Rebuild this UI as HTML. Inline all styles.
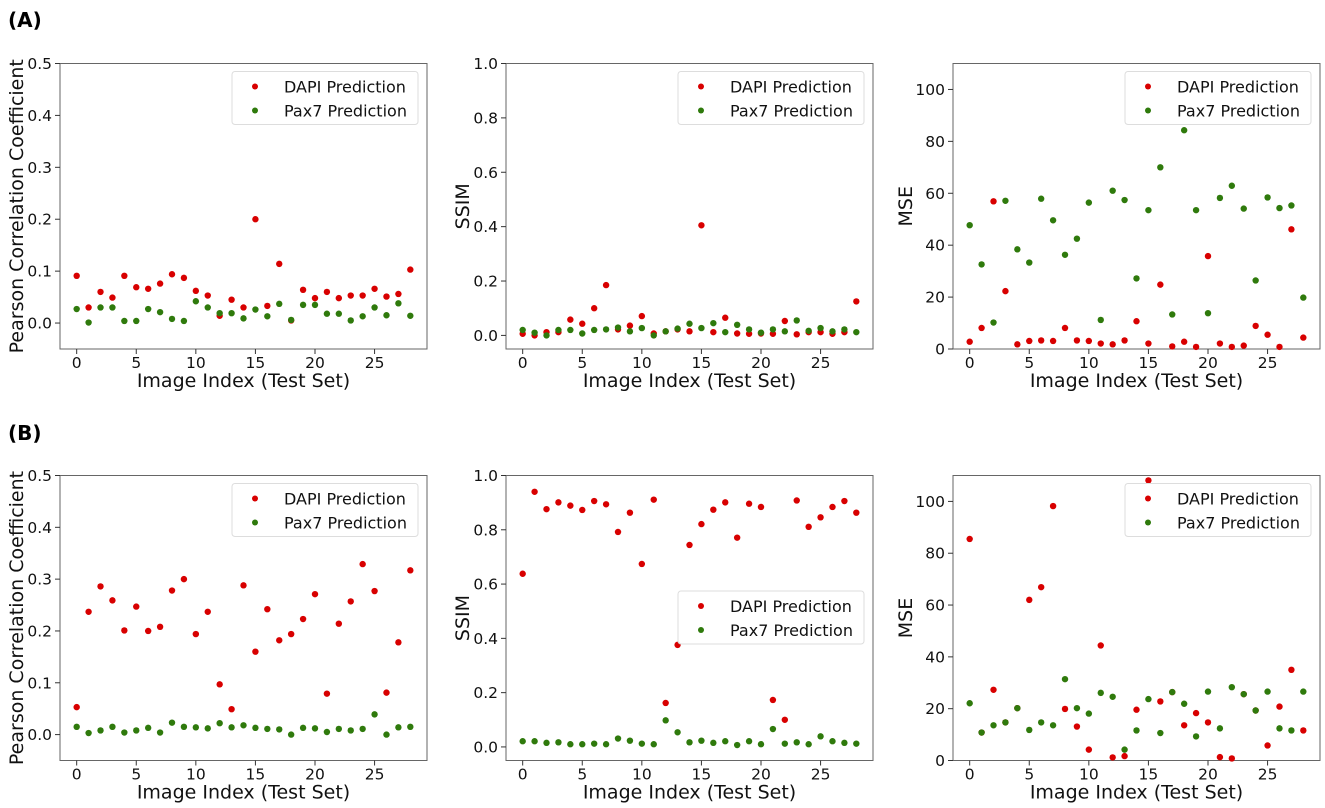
<!DOCTYPE html>
<html><head><meta charset="utf-8"><style>
html,body{margin:0;padding:0;background:#fff;}
svg{display:block;font-family:"DejaVu Sans","Liberation Sans",sans-serif;}
</style></head><body>
<svg id="fig" width="1325" height="808" viewBox="0 0 1325 808" xmlns="http://www.w3.org/2000/svg">
<text x="8" y="27" font-size="20" font-weight="bold">(A)</text>
<text x="8" y="440" font-size="20" font-weight="bold">(B)</text>
</svg>
<script>
const idx = Array.from({length:29},(_,i)=>i);
const xTicks = [0,5,10,15,20,25];
const pearsonTicks = [0.0,0.1,0.2,0.3,0.4,0.5];
const ssimTicks = [0.0,0.2,0.4,0.6,0.8,1.0];
const mseTicks = [0,20,40,60,80,100];
const seriesNames = ["DAPI Prediction","Pax7 Prediction"];

const aPearsonDapi = [0.091,0.030,0.060,0.049,0.091,0.069,0.066,0.076,0.094,0.087,0.062,0.053,0.014,0.045,0.030,0.200,0.033,0.114,0.005,0.064,0.048,0.060,0.048,0.053,0.053,0.066,0.051,0.056,0.103];
const aPearsonPax7 = [0.027,0.001,0.030,0.030,0.004,0.004,0.027,0.021,0.008,0.004,0.042,0.030,0.019,0.019,0.009,0.026,0.013,0.037,0.006,0.035,0.035,0.018,0.018,0.005,0.013,0.030,0.015,0.038,0.014];
const aSsimDapi = [0.006,0.0,0.012,0.012,0.058,0.043,0.10,0.185,0.022,0.036,0.071,0.007,0.015,0.022,0.015,0.405,0.012,0.065,0.007,0.006,0.007,0.006,0.053,0.004,0.012,0.012,0.006,0.012,0.125];
const aSsimPax7 = [0.02,0.01,0.0,0.02,0.02,0.007,0.02,0.022,0.029,0.015,0.027,0.0,0.015,0.025,0.043,0.027,0.045,0.012,0.039,0.022,0.01,0.022,0.015,0.055,0.017,0.027,0.015,0.022,0.012];
const aMseDapi = [2.8,8.1,56.9,22.3,1.8,3.1,3.3,3.1,8.1,3.3,3.1,2.1,1.8,3.3,10.7,2.1,24.8,1.0,2.8,0.8,35.8,2.1,0.8,1.3,8.9,5.5,0.8,46.1,4.4];
const aMsePax7 = [47.7,32.6,10.2,57.1,38.4,33.3,57.9,49.6,36.3,42.5,56.4,11.2,61.0,57.4,27.2,53.5,70.0,13.3,84.3,53.5,13.8,58.2,62.9,54.1,26.4,58.4,54.3,55.3,19.8];

const bPearsonDapi = [0.053,0.237,0.286,0.259,0.201,0.247,0.200,0.208,0.278,0.300,0.194,0.237,0.097,0.049,0.288,0.160,0.242,0.182,0.194,0.223,0.271,0.079,0.214,0.257,0.329,0.277,0.081,0.178,0.317];
const bPearsonPax7 = [0.015,0.003,0.008,0.015,0.004,0.008,0.013,0.004,0.023,0.015,0.014,0.012,0.022,0.014,0.018,0.013,0.011,0.010,0.0,0.013,0.012,0.005,0.011,0.008,0.011,0.039,0.0,0.014,0.015];
const bSsimDapi = [0.638,0.940,0.876,0.901,0.889,0.873,0.906,0.894,0.792,0.863,0.674,0.911,0.162,0.376,0.744,0.821,0.874,0.901,0.771,0.896,0.884,0.173,0.100,0.908,0.811,0.846,0.884,0.906,0.863];
const bSsimPax7 = [0.021,0.021,0.015,0.017,0.010,0.010,0.012,0.010,0.031,0.023,0.012,0.010,0.098,0.054,0.017,0.023,0.015,0.021,0.007,0.021,0.010,0.066,0.012,0.017,0.010,0.039,0.021,0.015,0.012];
const bMseDapi = [85.5,10.8,27.3,14.7,20.2,62.0,66.9,98.2,19.9,13.1,4.2,44.4,1.2,1.7,19.6,108.1,22.8,26.4,13.6,18.3,14.7,1.3,0.8,25.6,19.3,5.8,20.8,35.0,11.6];
const bMsePax7 = [22.1,10.8,13.6,14.7,20.2,11.8,14.7,13.6,31.4,20.2,18.1,26.1,24.6,4.2,11.6,23.7,10.6,26.4,21.9,9.3,26.6,12.4,28.3,25.6,19.3,26.6,12.4,11.6,26.6];

const NS="http://www.w3.org/2000/svg";
const svg=document.getElementById('fig');
const RED="#d80000", GREEN="#2f7a0c";
function mk(tag,attrs,parent){const e=document.createElementNS(NS,tag);for(const k in attrs)e.setAttribute(k,attrs[k]);(parent||svg).appendChild(e);return e;}

const cols=[[60,427],[506,873],[953,1320]];
const rows=[[63.5,349],[475.5,760.5]];
const ylabX=[17,463,906];

function panel(name,col,row,ymin,ymax,yticks,ylabel,dapi,pax,fmt,legend){
  const [L,R]=cols[col],[T,B]=rows[row];
  const g=mk('g',{});
  
  
  const xs=v=>L+(v-(-1.4))/(30.8)*(R-L);
  const ys=v=>B-(v-ymin)/(ymax-ymin)*(B-T);
  const frame=mk('rect',{x:L,y:T,width:R-L,height:B-T,fill:'none',stroke:'#666','stroke-width':1},g);
  
  
  xTicks.forEach(t=>{
    mk('line',{x1:xs(t),x2:xs(t),y1:B,y2:B+5,stroke:'#333'},g);
    const tx=mk('text',{x:xs(t),y:B+19,'font-size':15.5,'text-anchor':'middle',fill:'#111'},g);
    tx.textContent=t;
    
    
  });
  yticks.forEach(t=>{
    mk('line',{x1:L-5,x2:L,y1:ys(t),y2:ys(t),stroke:'#333'},g);
    const tx=mk('text',{x:L-8,y:ys(t)+5.5,'font-size':15.5,'text-anchor':'end',fill:'#111'},g);
    tx.textContent=fmt(t);
    
    
  });
  const xl=mk('text',{x:(L+R)/2,y:B+38,'font-size':19,'text-anchor':'middle',fill:'#111'},g);
  xl.textContent='Image Index (Test Set)';
  
  
  const yc=(T+B)/2,yx=ylabX[col];
  const yl=mk('text',{x:yx,y:yc,'font-size':19,'text-anchor':'middle','dominant-baseline':'central',fill:'#111',transform:`rotate(-90 ${yx} ${yc})`},g);
  yl.textContent=ylabel;
  
  
  idx.forEach(i=>{
    const c=mk('circle',{cx:xs(i),cy:ys(dapi[i]),r:3.2,fill:RED},g);
    
    
  });
  idx.forEach(i=>{
    const c=mk('circle',{cx:xs(i),cy:ys(pax[i]),r:3.2,fill:GREEN},g);
    
    
  });
  const lw=186,lh=53;
  const lr=legend?legend[0]:R-9, lt=legend?legend[1]:T+8;
  const lg=mk('g',{},g);
  
  
  mk('rect',{x:lr-lw,y:lt,width:lw,height:lh,rx:3,fill:'#fff','fill-opacity':0.85,stroke:'#ddd'},lg);
  [RED,GREEN].forEach((c,k)=>{
    const yy=lt+15+k*24;
    mk('circle',{cx:lr-lw+23,cy:yy,r:3,fill:c},lg);
    const t=mk('text',{x:lr-lw+52,y:yy+6,'font-size':16,fill:'#111'},lg);
    t.textContent=seriesNames[k];
    
    
  });
}
const f1=t=>t.toFixed(1), f0=t=>String(t);
panel('pearson-chart-a',0,0,-0.05,0.5,pearsonTicks,'Pearson Correlation Coefficient',aPearsonDapi,aPearsonPax7,f1);
panel('ssim-chart-a',1,0,-0.05,1.0,ssimTicks,'SSIM',aSsimDapi,aSsimPax7,f1);
panel('mse-chart-a',2,0,0,110,mseTicks,'MSE',aMseDapi,aMsePax7,f0);
panel('pearson-chart-b',0,1,-0.05,0.5,pearsonTicks,'Pearson Correlation Coefficient',bPearsonDapi,bPearsonPax7,f1);
panel('ssim-chart-b',1,1,-0.05,1.0,ssimTicks,'SSIM',bSsimDapi,bSsimPax7,f1,[864,591]);
panel('mse-chart-b',2,1,0,110,mseTicks,'MSE',bMseDapi,bMsePax7,f0);
</script>
</body></html>
